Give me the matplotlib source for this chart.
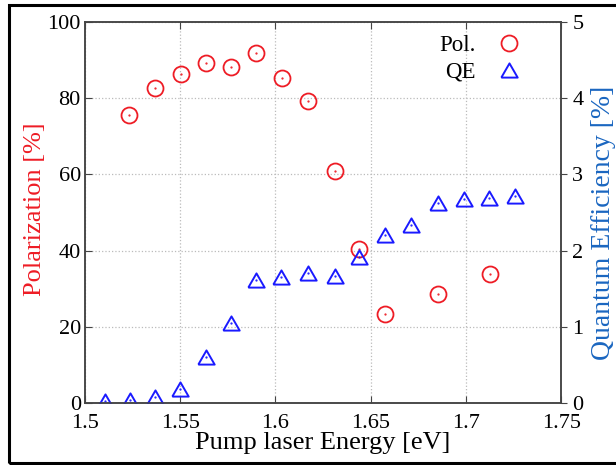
import numpy as np
import matplotlib.pyplot as plt
from matplotlib.lines import Line2D
from matplotlib.patches import Rectangle

plt.rcParams['font.family'] = ['Liberation Serif', 'DejaVu Serif']

# polarization vs pump energy
pol_energy = [1.5231, 1.5368, 1.5504, 1.5636, 1.5767, 1.5898, 1.6035,
              1.6170, 1.6313, 1.6440, 1.6576, 1.6854, 1.7127]
pol_values = [75.6, 82.7, 86.4, 89.2, 88.2, 91.9, 85.3,
              79.3, 60.9, 40.4, 23.4, 28.6, 33.9]

# quantum efficiency vs pump energy
qe_energy = [1.5105, 1.5236, 1.5368, 1.5499, 1.5636, 1.5767, 1.5898, 1.6030,
             1.6170, 1.6310, 1.6440, 1.6576, 1.6710, 1.6854, 1.6990, 1.7120, 1.7258]
qe_values = [0.03, 0.04, 0.08, 0.18, 0.60, 1.05, 1.61, 1.65,
             1.70, 1.67, 1.92, 2.20, 2.34, 2.62, 2.68, 2.69, 2.72]

RED = '#ee1c25'
BLUE = '#1a1aff'
LABEL_BLUE = '#1a66c0'
TICK_FS = 16

# equilateral triangle, wider than tall
TRI = [(-1, -0.866), (1, -0.866), (0, 0.866), (-1, -0.866)]
CIRC_MS = 11.5
TRI_MS = 11.8

fig = plt.figure(figsize=(6.16, 4.65), dpi=100)
ax = fig.add_axes([0.138, 0.1333, 0.773, 0.8194])
ax2 = ax.twinx()

ax.plot(pol_energy, pol_values, 'o', ms=CIRC_MS, mfc='none', mec=RED, mew=1.3)
ax.plot(pol_energy, pol_values, '.', ms=1.2, color=RED)
ax2.plot(qe_energy, qe_values, ls='none', marker=TRI, ms=TRI_MS, mfc='none', mec=BLUE, mew=1.4)
ax2.plot(qe_energy, qe_values, '.', ms=1.2, color=BLUE)

ax.set_xlim(1.5, 1.75)
ax.set_ylim(0, 100)
ax2.set_ylim(0, 5)
ax.set_xticks(np.arange(1.5, 1.751, 0.05))
ax.set_xticklabels(['1.5', '1.55', '1.6', '1.65', '1.7', '1.75'])
ax.set_yticks(np.arange(0, 101, 20))
ax2.set_yticks(np.arange(0, 6, 1))

ax.grid(True, linestyle=':', color='#bbbbbb', linewidth=0.9)
for a in (ax, ax2):
    for s in a.spines.values():
        s.set_color('#444444')
        s.set_linewidth(1.1)
ax.tick_params(axis='both', direction='in', length=5, labelsize=TICK_FS, top=True,
               color='#444444')
ax.tick_params(axis='x', pad=8)
ax.tick_params(axis='y', pad=3)
ax2.tick_params(axis='y', direction='out', length=4, labelsize=TICK_FS,
                color='#444444', pad=4)

ax.set_xlabel('Pump laser Energy [eV]', fontsize=19, labelpad=-1)
ax.set_ylabel('Polarization [%]', fontsize=19, color=RED, labelpad=1)
ax2.set_ylabel('Quantum Efficiency [%]', fontsize=20, color=LABEL_BLUE, labelpad=5.5)
ax.yaxis.label.set_y(0.51)
ax2.yaxis.label.set_y(0.472)

handles = [Line2D([], [], ls='none', marker='o', ms=CIRC_MS, mfc='none', mec=RED, mew=1.3),
           Line2D([], [], ls='none', marker=TRI, ms=TRI_MS, mfc='none', mec=BLUE, mew=1.4)]
ax2.legend(handles, ['Pol.', 'QE'], loc='upper right', bbox_to_anchor=(0.958, 1.02),
           frameon=False, markerfirst=False, fontsize=16.5, handlelength=1.0,
           handletextpad=0.95, labelspacing=0.25)

# thin black frame around the figure
fig.add_artist(Rectangle((9 / 616, 2 / 465), 1.0, 458 / 465, transform=fig.transFigure,
                         fill=False, edgecolor='black', linewidth=2.2, clip_on=False))

fig.savefig('out.png', dpi=100)
